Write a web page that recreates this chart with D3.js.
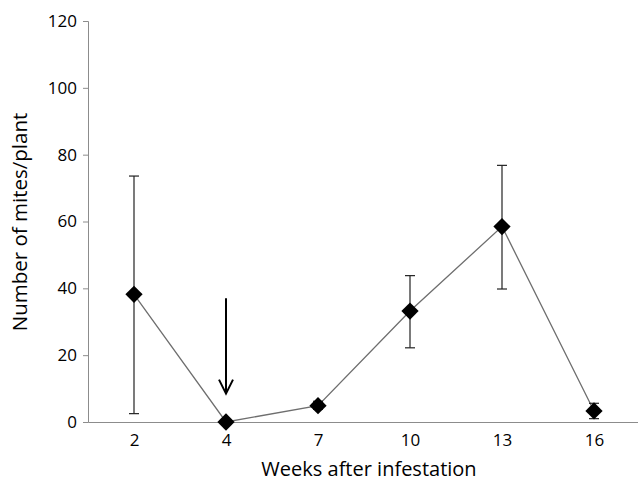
<!DOCTYPE html>
<html>
<head>
<meta charset="utf-8">
<script src="https://cdn.jsdelivr.net/npm/d3@7"></script>
<style>
  body { margin: 0; background: #fff; }
  text { font-family: "Open Sans", sans-serif; }
</style>
</head>
<body>
<svg width="638" height="486"></svg>
<script>
// mites per plant over weeks after infestation
const weeks = ['2', '4', '7', '10', '13', '16'];
const mites = [38.2, 0, 4.9, 33.2, 58.5, 3.3];
const errLow = [2.5, 0, 3.8, 22.2, 39.8, 1.0];
const errHigh = [73.6, 0, 6.2, 43.8, 76.8, 5.6];
const yTicks = [0, 20, 40, 60, 80, 100, 120];
// arrow marking week 4 (from / to, in mites)
const arrowWeek = '4';
const arrowFrom = 37;
const arrowTo = 8.5;

const svg = d3.select('svg');
const graf = svg.append('g');

const x = d3.scalePoint()
    .domain(weeks)
    .range([88, 640])
    .padding(0.5);

const y = d3.scaleLinear()
    .domain([0, 120])
    .range([422, 21]);

// y axis
const yAxis = graf.append('g')
    .attr('transform', 'translate(88,0)')
    .call(d3.axisLeft(y).tickValues(yTicks).tickSize(5).tickPadding(6));
yAxis.attr('font-size', 17).attr('font-family', '"Open Sans", sans-serif');
yAxis.select('.domain').attr('stroke', '#8c8c8c');
yAxis.selectAll('.tick line').attr('stroke', '#8c8c8c');
yAxis.selectAll('.tick text').attr('fill', '#000');

// x axis
const xAxis = graf.append('g')
    .attr('transform', 'translate(0,422)')
    .call(d3.axisBottom(x).tickSize(0).tickPadding(12).tickSizeOuter(0));
xAxis.attr('font-size', 17).attr('font-family', '"Open Sans", sans-serif');
xAxis.select('.domain').attr('stroke', '#8c8c8c');
xAxis.selectAll('.tick text').attr('fill', '#000');

// axis titles
graf.append('text')
    .attr('x', 369)
    .attr('y', 476)
    .attr('text-anchor', 'middle')
    .attr('font-size', 20)
    .text('Weeks after infestation');

graf.append('text')
    .attr('transform', 'translate(27,222) rotate(-90)')
    .attr('text-anchor', 'middle')
    .attr('font-size', 20.5)
    .text('Number of mites/plant');

// line
const line = d3.line()
    .x((d, i) => x(weeks[i]))
    .y(d => y(d));
graf.append('path')
    .datum(mites)
    .attr('d', line)
    .attr('fill', 'none')
    .attr('stroke', '#6e6e6e')
    .attr('stroke-width', 1.3);

// error bars
const err = graf.selectAll('.err')
    .data(weeks)
    .enter()
    .append('g')
    .attr('stroke', '#222')
    .attr('stroke-width', 1.2);
err.append('line')
    .attr('x1', d => x(d)).attr('x2', d => x(d))
    .attr('y1', (d, i) => y(errLow[i]))
    .attr('y2', (d, i) => y(errHigh[i]));
err.append('line')
    .attr('x1', d => x(d) - 5).attr('x2', d => x(d) + 5)
    .attr('y1', (d, i) => y(errLow[i]))
    .attr('y2', (d, i) => y(errLow[i]));
err.append('line')
    .attr('x1', d => x(d) - 5).attr('x2', d => x(d) + 5)
    .attr('y1', (d, i) => y(errHigh[i]))
    .attr('y2', (d, i) => y(errHigh[i]));

// markers
graf.selectAll('.pt')
    .data(mites)
    .enter()
    .append('path')
    .attr('d', d3.symbol().type(d3.symbolDiamond2).size(190))
    .attr('transform', (d, i) => 'translate(' + x(weeks[i]) + ',' + y(d) + ')')
    .attr('fill', '#000');

// arrow
graf.append('line')
    .attr('x1', x(arrowWeek)).attr('x2', x(arrowWeek))
    .attr('y1', y(arrowFrom)).attr('y2', y(arrowTo))
    .attr('stroke', '#000')
    .attr('stroke-width', 2);
graf.append('path')
    .attr('d', 'M' + (x(arrowWeek) - 7) + ',' + (y(arrowTo) - 14) +
        'L' + x(arrowWeek) + ',' + y(arrowTo) +
        'L' + (x(arrowWeek) + 7) + ',' + (y(arrowTo) - 14))
    .attr('fill', 'none')
    .attr('stroke', '#000')
    .attr('stroke-width', 2);
</script>
</body>
</html>
